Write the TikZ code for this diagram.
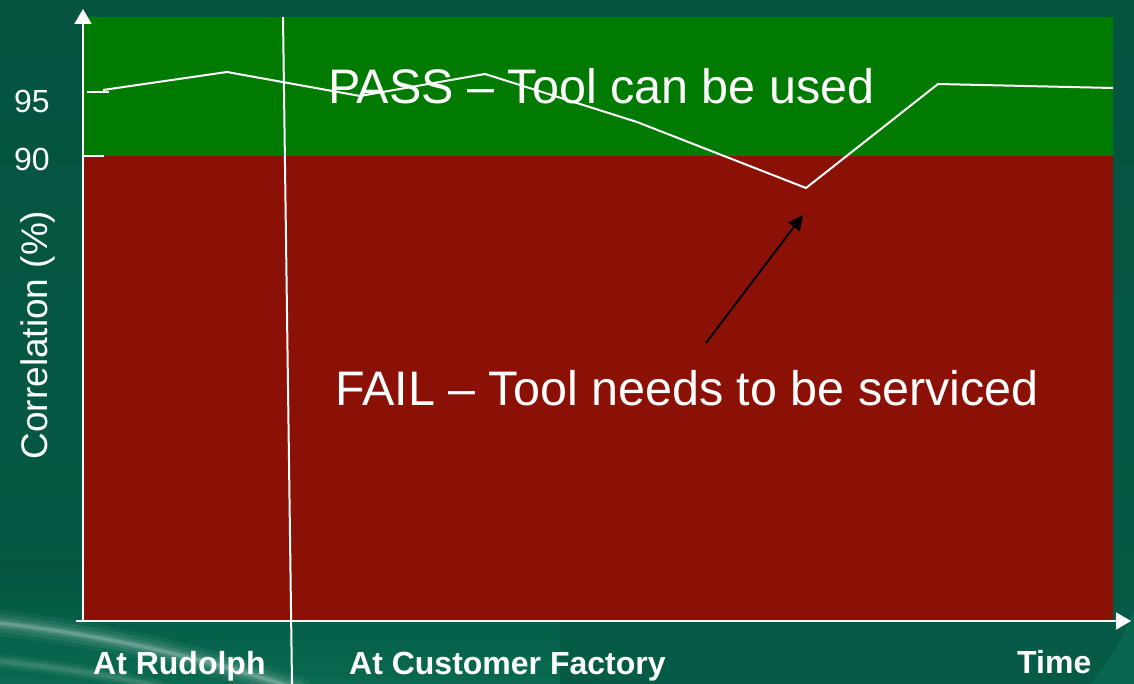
\documentclass[tikz,border=0pt]{standalone}
\usepackage{fontspec}
\setmainfont{Liberation Sans}
\usetikzlibrary{arrows.meta}
\definecolor{bgdark}{HTML}{03533F}
\definecolor{bglight}{HTML}{0A6E54}
\definecolor{passgreen}{HTML}{007A00}
\definecolor{failred}{HTML}{8B1005}
\tikzset{
  axisline/.style={white, line width=2pt},
  axistip/.style={-{Triangle[length=15pt,width=17pt]}},
  dataline/.style={white, line width=2pt, line join=miter},
  bigtext/.style={white, anchor=base west, inner sep=0pt, font=\fontsize{48.5}{51}\selectfont},
  axtext/.style={white, anchor=base west, inner sep=0pt, font=\bfseries\fontsize{32}{34}\selectfont},
  ticktext/.style={white, anchor=base west, inner sep=0pt, font=\fontsize{32}{34}\selectfont},
}
\begin{document}
\begin{tikzpicture}[x=1pt,y=-1pt]
\useasboundingbox (0,0) rectangle (1134,684);
% background
\shade[top color=bgdark, bottom color=bgdark!70!bglight] (0,0) rectangle (1134,684);
\shade[top color=bgdark, bottom color=bglight, opacity=0.8] (0,560) rectangle (560,684);
\fill[bglight, opacity=0.6] (1134,610) .. controls (1118,650) and (1105,665) .. (1090,684) -- (1134,684) -- cycle;
% swoosh
\foreach \w/\o in {26/0.05,18/0.07,11/0.09,6/0.12,3/0.15}{
  \draw[white, opacity=\o, line width=\w pt, line cap=round]
    (-10,622) .. controls (80,632) and (180,650) .. (300,690);
}
\foreach \w/\o in {14/0.05,8/0.07,4/0.08}{
  \draw[white, opacity=\o, line width=\w pt]
    (-10,660) .. controls (60,668) and (120,676) .. (170,690);
}
% regions
\fill[passgreen] (84,17) rectangle (1113,156);
\fill[failred] (84,156) rectangle (1113,620);
% axes
\coordinate (yo) at (83,621);
\coordinate (yt) at (83,9);
\coordinate (xo) at (76,621);
\coordinate (xt) at (1131,621);
\draw[axisline, axistip] (yo) -- (yt);
\draw[axisline, axistip] (xo) -- (xt);
% ticks
\coordinate (t95a) at (87,92);
\coordinate (t95b) at (109,92);
\coordinate (t90a) at (83,156);
\coordinate (t90b) at (104,156);
\draw[axisline] (t95a) -- (t95b);
\draw[axisline] (t90a) -- (t90b);
\node[ticktext] (l95) at (14,113) {95};
\node[ticktext] (l90) at (14,171) {90};
\node[white, font=\fontsize{37}{40}\selectfont, rotate=90, inner sep=0pt] (ylab) at (38,335) {Correlation (\%)};
% divider
\coordinate (dv1) at (283,17);
\coordinate (dv2) at (292,684);
\draw[white, line width=2pt] (dv1) -- (dv2);
% data
\draw[dataline] (103,90) -- (227,72) -- (360,96) -- (485,74) -- (637,122) -- (806,188) -- (938,84) -- (1113,88);
% texts
\node[bigtext] (pass) at (328,104) {PASS – Tool can be used};
\node[bigtext] (fail) at (335,405) {FAIL – Tool needs to be serviced};
% arrow
\coordinate (ar1) at (706,343);
\coordinate (ar2) at (803,215);
\draw[black, line width=2pt, -{Triangle[length=15pt,width=14pt]}] (ar1) -- (ar2);
% x labels
\node[axtext] (rud) at (93,674) {At Rudolph};
\node[axtext] (cust) at (349,674) {At Customer Factory};
\node[axtext] (time) at (1017,673) {Time};
\end{tikzpicture}
\end{document}
